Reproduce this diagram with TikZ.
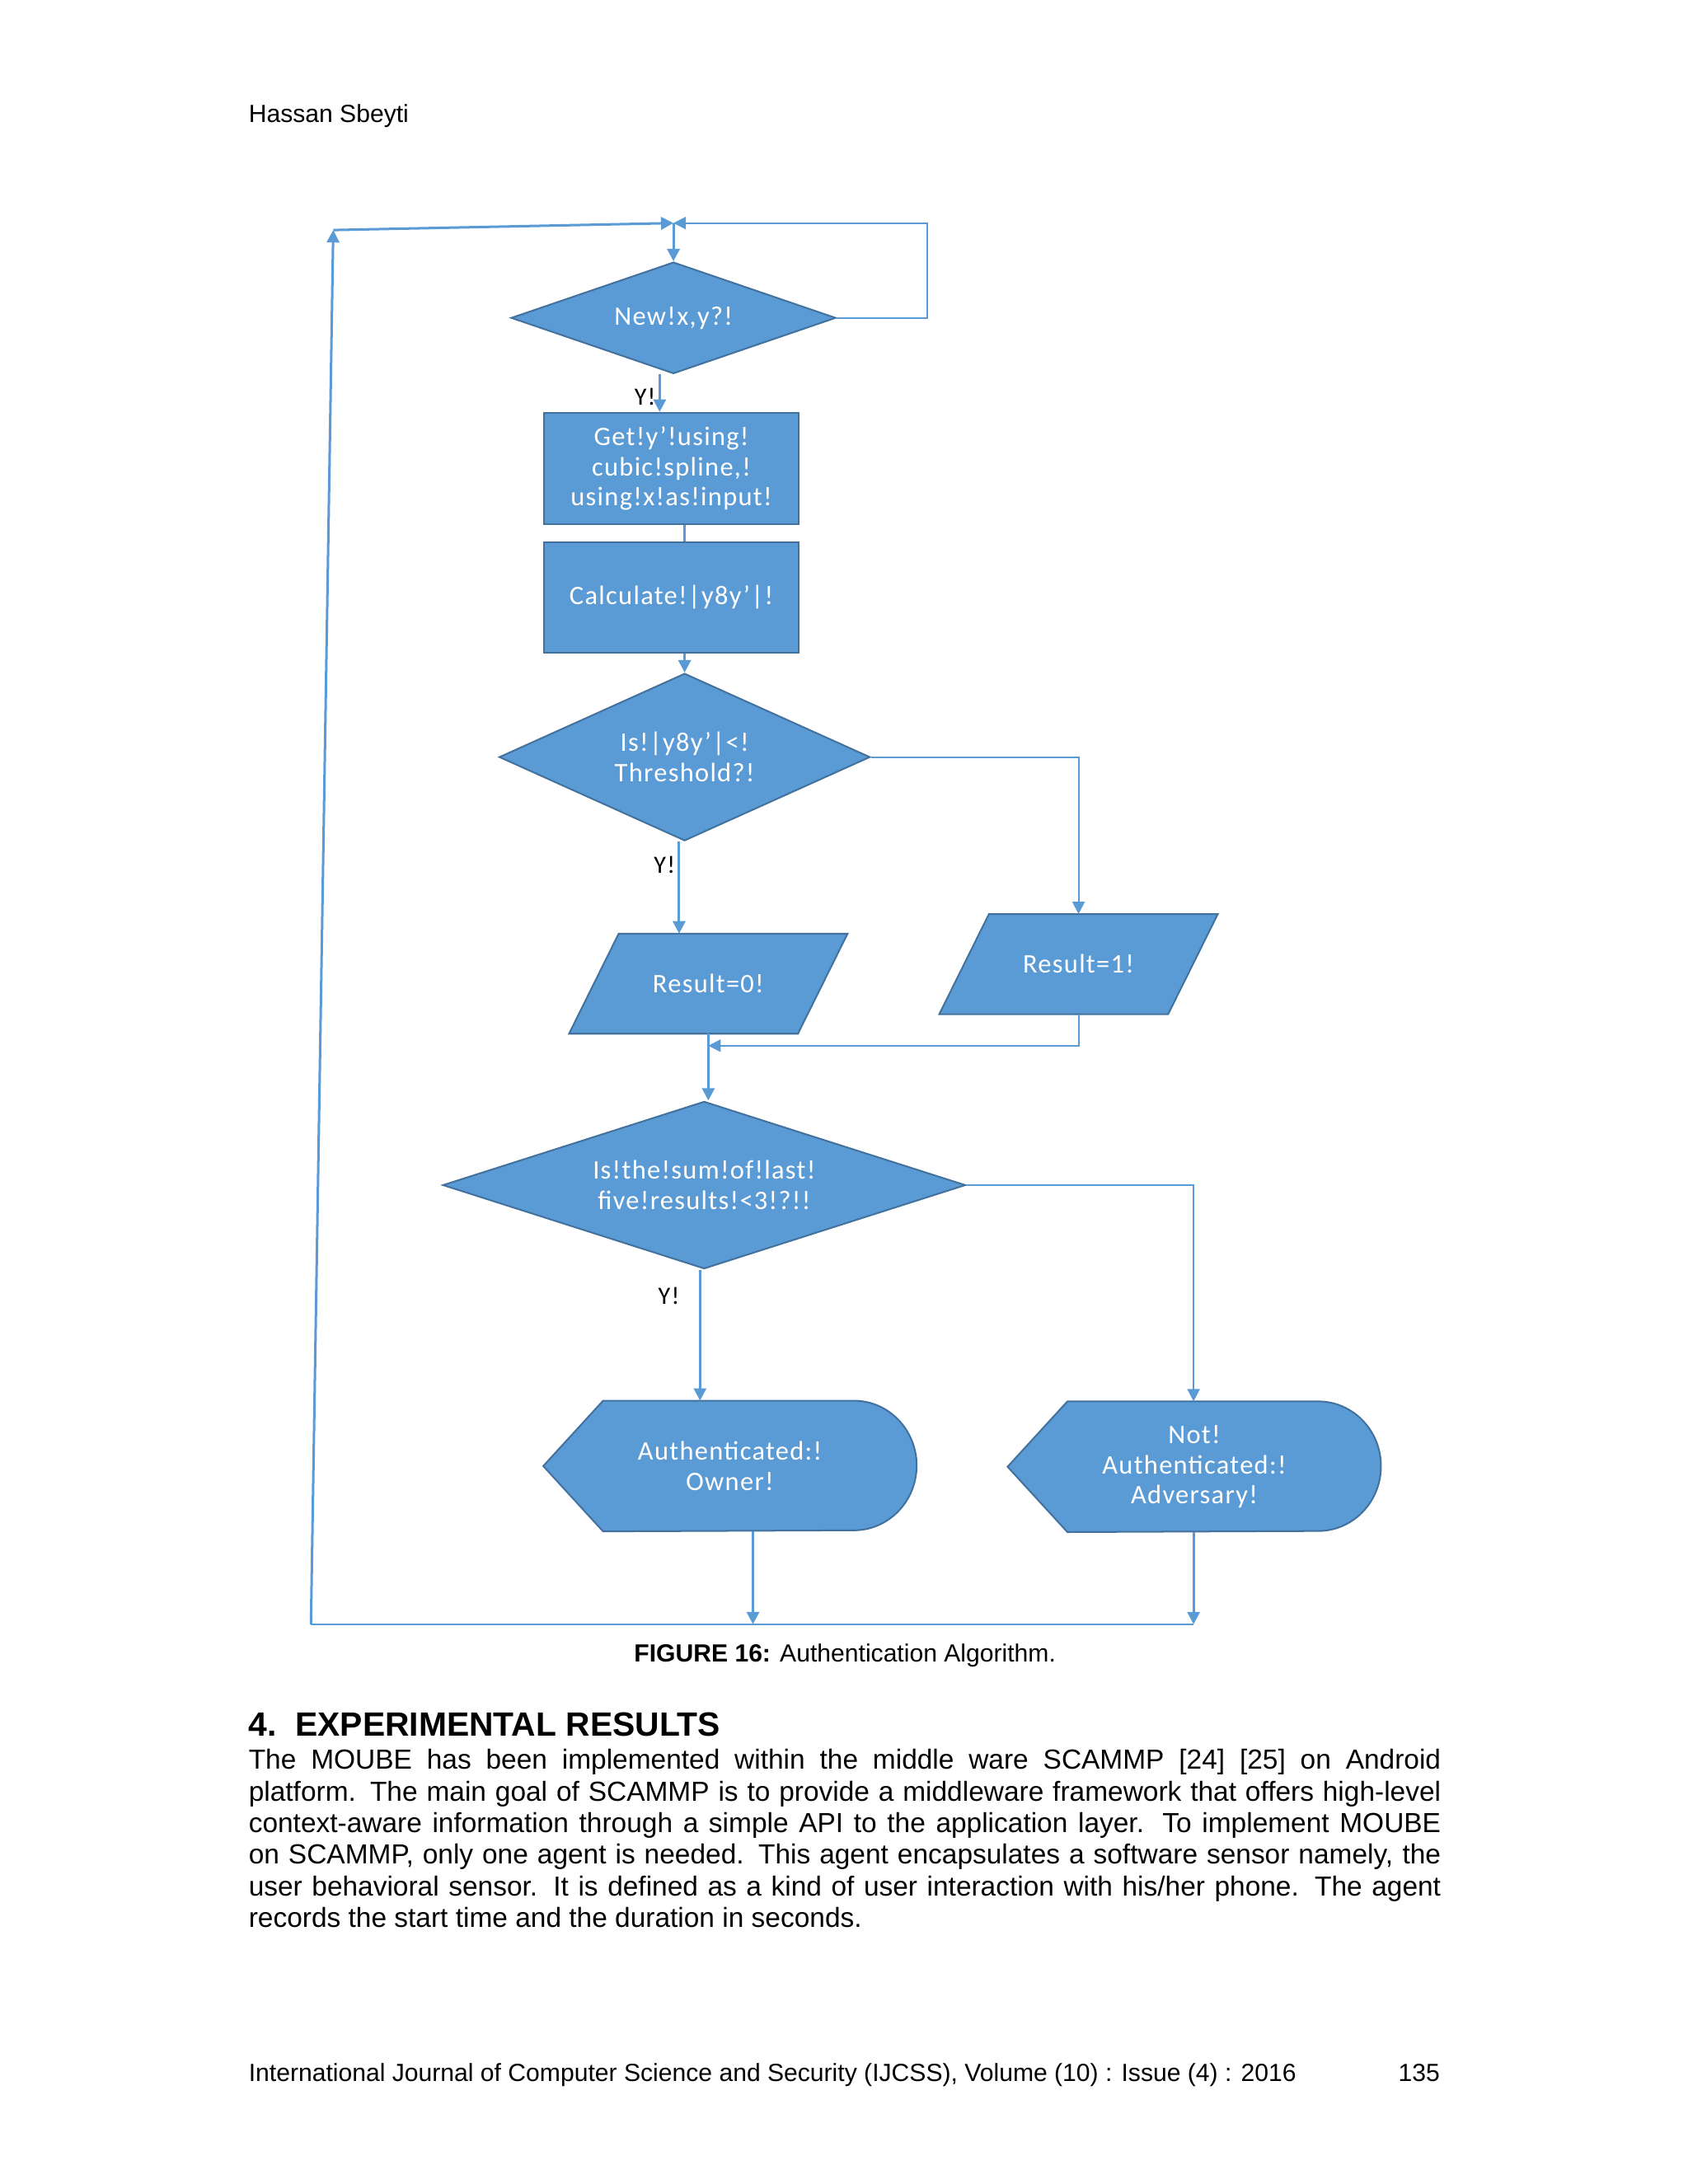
\documentclass[tikz,border=0pt]{standalone}
\usepackage{fontspec}
\setmainfont{Liberation Sans}
\newfontfamily\chartfont[LetterSpace=4]{Carlito}
\usetikzlibrary{shapes.geometric,arrows.meta,backgrounds}
\definecolor{boxblue}{RGB}{91,155,213}
\definecolor{edgeblue}{RGB}{65,113,156}
\definecolor{lineblue}{RGB}{91,155,213}
\tikzset{
  chart/.style={fill=boxblue,draw=edgeblue,line width=0.6pt,text=white,
    font=\chartfont\fontsize{9.7}{10.9}\selectfont,align=center,inner sep=0pt},
  decision/.style={chart,diamond},
  process/.style={chart,rectangle,minimum width=92.5pt,minimum height=40.45pt},
  result/.style={text=white,font=\chartfont\fontsize{9.7}{10.9}\selectfont,align=center,
    minimum width=100.6pt,minimum height=35.9pt,inner sep=0pt},
  outcome/.style={text=white,font=\chartfont\fontsize{9.7}{10.9}\selectfont,align=center,
    minimum width=135pt,minimum height=47pt,inner sep=0pt},
  flow/.style={draw=lineblue,line width=0.9pt},
  thinflow/.style={draw=lineblue,line width=0.6pt},
  tip/.style={-{Triangle[length=4.5pt,width=4.5pt]}},
  yes/.style={font=\chartfont\fontsize{9}{10}\selectfont,inner sep=1pt},
  page/.style={inner sep=0pt,font=\fontsize{9}{10}\selectfont}
}
% slanted box behind a result node
\newcommand{\resultshape}[1]{%
  \draw[chart] (#1.south west) -- ([xshift=18pt]#1.north west) -- (#1.north east)
    -- ([xshift=-18pt]#1.south east) -- cycle;}
% display box behind an outcome node
\newcommand{\outcomeshape}[1]{%
  \draw[chart] (#1.west) -- ([xshift=21.7pt]#1.north west) -- ([xshift=-22.75pt]#1.north east)
    arc[start angle=90,end angle=-90,x radius=22.75pt,y radius=23.5pt]
    -- ([xshift=21.7pt]#1.south west) -- cycle;}
\begin{document}
\begin{tikzpicture}[x=0.5056pt,y=-0.5056pt]
  \useasboundingbox (0pt,0pt) rectangle (612pt,-792pt);

  % page text
  \node[page,anchor=base west] (author) at (178,88) {Hassan Sbeyti};
  \node[page,anchor=base] (caption) at (606,1192) {\textbf{FIGURE 16:} Authentication Algorithm.};
  \node[inner sep=0pt,anchor=base west,font=\bfseries\fontsize{12.2}{14}\selectfont] (heading) at (178,1245) {4.\ \ EXPERIMENTAL RESULTS};
  \node[inner sep=0pt,anchor=base west] (body) at (178,1269) {\parbox[t]{432.3pt}{\fontsize{10}{11.45}\selectfont\hyphenpenalty=10000
    The MOUBE has been implemented within the middle ware SCAMMP [24] [25] on Android\linebreak
    platform. The main goal of SCAMMP is to provide a middleware framework that offers high-level\linebreak
    context-aware information through a simple API to the application layer. To implement MOUBE\linebreak
    on SCAMMP, only one agent is needed. This agent encapsulates a software sensor namely, the\linebreak
    user behavioral sensor. It is defined as a kind of user interaction with his/her phone. The agent\linebreak
    records the start time and the duration in seconds.}};
  \node[page,anchor=base west] (journal) at (178,1493) {International Journal of Computer Science and Security (IJCSS), Volume (10) : Issue (4) : 2016};
  \node[page,anchor=base east] (pageno) at (1033,1493) {135};

  % chart
  \node[decision,aspect=2.9,minimum width=117.8pt,minimum height=40.45pt] (new) at (483,228) {New!x,y?!};
  \node[process] (spline) at (481.5,336) {Get!y’!using!\\cubic!spline,!\\using!x!as!input!};
  \node[process,minimum height=39.95pt] (calc) at (481.5,428.5) {Calculate!|y8y’|!};
  \node[decision,aspect=2.2,minimum width=134.5pt,minimum height=60.7pt] (thresh) at (491,543) {Is!|y8y’|<!\\Threshold?!};
  \node[result] (res0) at (508,705.5) {Result=0!};
  \node[result] (res1) at (773.5,691.5) {Result=1!};
  \node[decision,aspect=3.1,minimum width=189.6pt,minimum height=60.7pt] (sum) at (505,850) {Is!the!sum!of!last!\\five!results!<3!?!!};
  \node[outcome] (owner) at (523.5,1051.5) {Authenticated:!\\Owner!};
  \node[outcome] (adversary) at (856.5,1052) {Not!\\Authenticated:!\\Adversary!};
  \begin{scope}[on background layer]
    \resultshape{res0}
    \resultshape{res1}
    \outcomeshape{owner}
    \outcomeshape{adversary}
  \end{scope}

  \coordinate (loopbot) at (223,1165);
  \coordinate (looptop) at (239,165);
  \coordinate (join) at (483,160);
  \coordinate (loopright) at (665,160);
  \coordinate (merge) at (508,750);
  \coordinate (ownerend) at (540,1165);
  \coordinate (advend) at (856,1165);

  \draw[flow,tip] (loopbot) -- (looptop);
  \draw[flow,tip] (looptop) -- (join);
  \draw[thinflow,tip] (new.east) -- (new.east -| loopright) -- (loopright) -- (join);
  \draw[flow,tip] (join) -- (new.north);
  \draw[flow,tip] ([xshift=-5pt]new.south) -- ([xshift=-5pt]new.south |- spline.north) node[yes,pos=0.6,left]{Y!};
  \draw[flow] (spline.south -| thresh.north) -- (calc.north -| thresh.north);
  \draw[flow,tip] (calc.south -| thresh.north) -- (thresh.north);
  \draw[flow,tip] ([xshift=-2pt]thresh.south) -- ([xshift=-2pt]thresh.south |- res0.north) node[yes,pos=0.25,left]{Y!};
  \draw[thinflow,tip] (thresh.east) -- (thresh.east -| res1.north) -- (res1.north);
  \draw[flow,tip] (res0.south -| merge) -- (sum.north -| merge);
  \draw[thinflow,tip] (res1.south) -- (res1.south |- merge) -- (merge);
  \draw[flow,tip] ([xshift=-1.5pt]sum.south) -- ([xshift=-1.5pt]sum.south |- owner.north) node[yes,pos=0.2,left=6pt]{Y!};
  \draw[thinflow,tip] (sum.east) -- (sum.east -| advend) -- (adversary.north -| advend);
  \draw[flow,tip] (owner.south -| ownerend) -- (ownerend);
  \draw[flow,tip] (adversary.south -| advend) -- (advend);
  \draw[thinflow] (loopbot) -- (advend);
\end{tikzpicture}
\end{document}
